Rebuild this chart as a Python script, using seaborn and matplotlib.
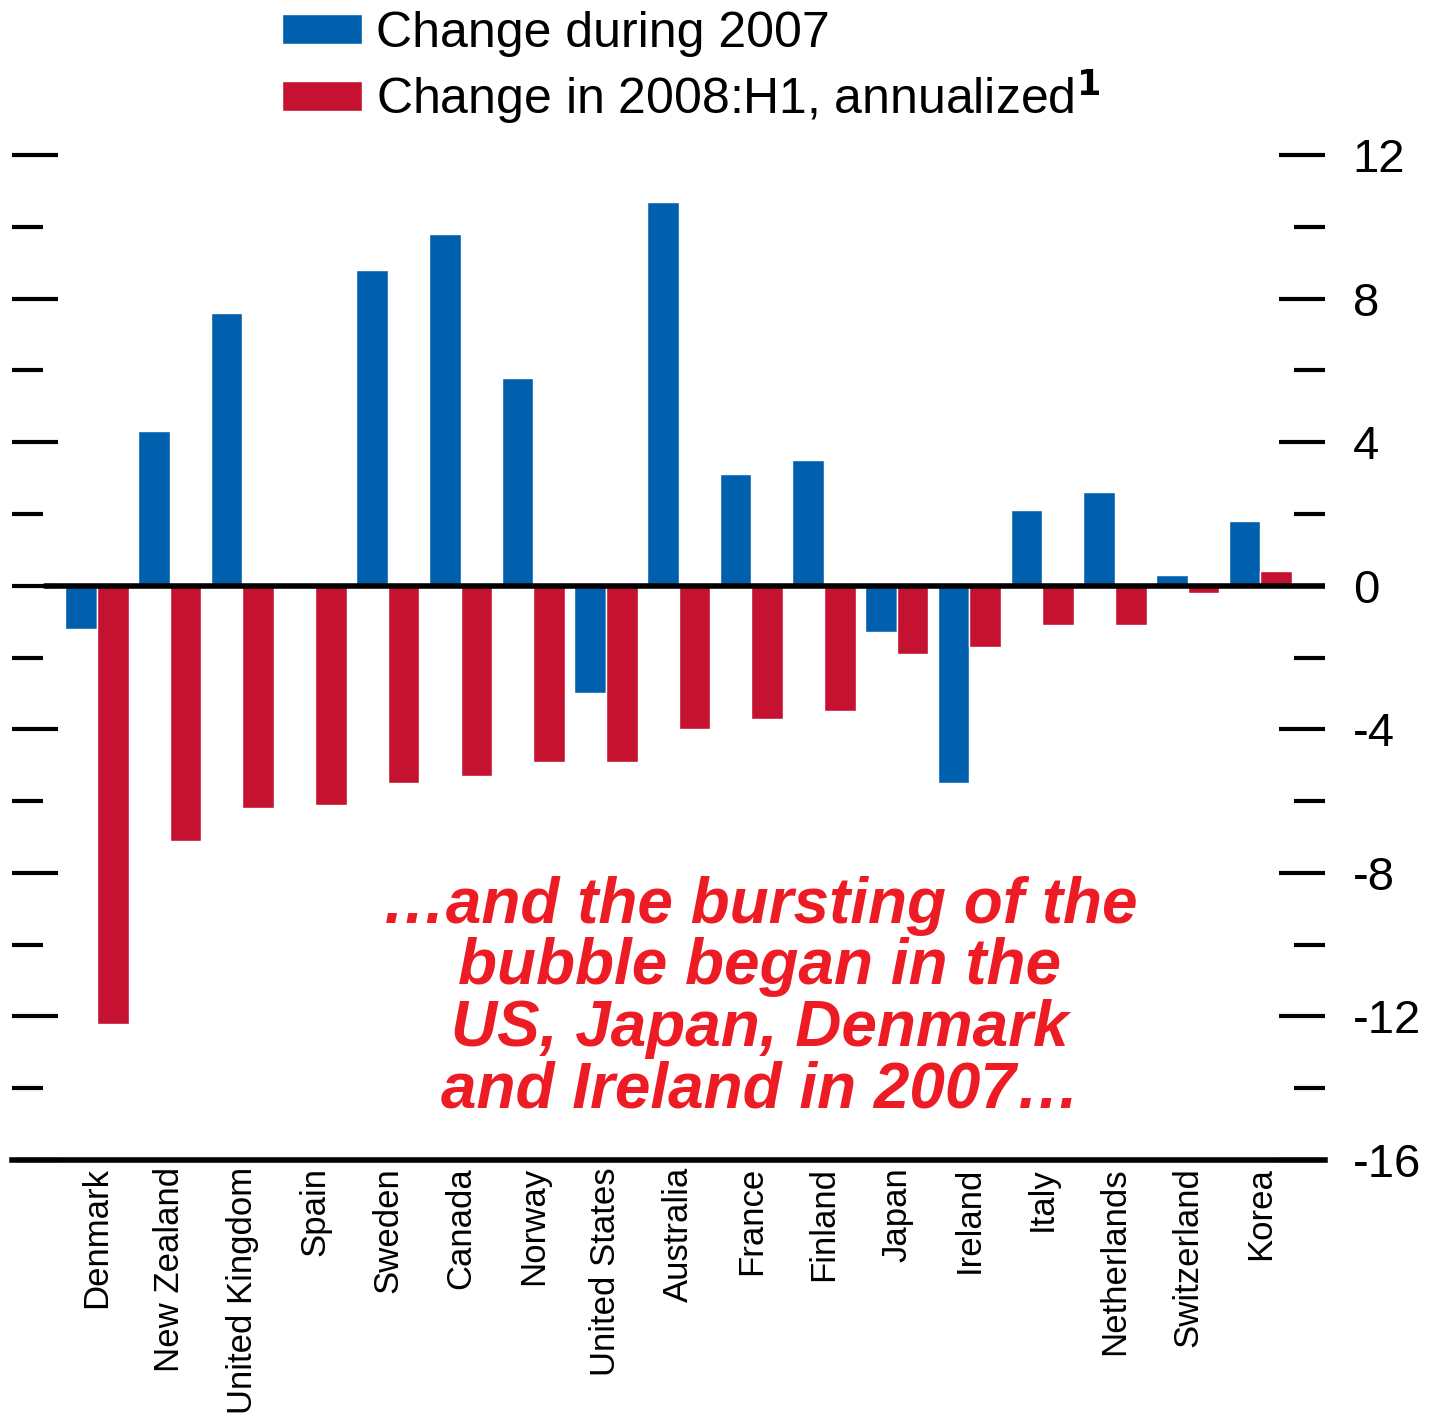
import pandas as pd
import matplotlib
matplotlib.use("Agg")
import matplotlib.pyplot as plt
import seaborn as sns
from matplotlib.ticker import MultipleLocator

# data (percent change)
countries = ["Denmark", "New Zealand", "United Kingdom", "Spain", "Sweden", "Canada",
             "Norway", "United States", "Australia", "France", "Finland", "Japan",
             "Ireland", "Italy", "Netherlands", "Switzerland", "Korea"]
change_2007 = [-1.2, 4.3, 7.6, 0.0, 8.8, 9.8, 5.8, -3.0, 10.7, 3.1, 3.5, -1.3,
               -5.5, 2.1, 2.6, 0.3, 1.8]
change_2008h1 = [-12.2, -7.1, -6.2, -6.1, -5.5, -5.3, -4.9, -4.9, -4.0, -3.7, -3.5,
                 -1.9, -1.7, -1.1, -1.1, -0.2, 0.4]
series_names = ["Change during 2007", r"Change in 2008:H1, annualized$^{\mathbf{1}}$"]
series_colors = ["#0060AE", "#C41230"]

df = pd.concat([
    pd.DataFrame({"country": countries, "value": change_2007, "series": series_names[0]}),
    pd.DataFrame({"country": countries, "value": change_2008h1, "series": series_names[1]}),
])

sns.set_style("white")
plt.rcParams["font.family"] = ["Liberation Sans", "DejaVu Sans"]
plt.rcParams["axes.unicode_minus"] = False
plt.rcParams["text.color"] = "black"
plt.rcParams["xtick.color"] = "black"
plt.rcParams["ytick.color"] = "black"

fig = plt.figure(figsize=(14.33, 14.21), dpi=100)
ax = fig.add_axes([12 / 1433, 1 - 1160 / 1421, 1313 / 1433, (1160 - 155) / 1421])

sns.barplot(data=df, x="country", y="value", hue="series", order=countries,
            hue_order=series_names, palette=series_colors, width=0.87,
            saturation=1, ax=ax)

ax.set_xlim(-1.17, 16.89)
ax.set_ylim(-16, 12)
ax.axhline(0, xmin=33 / 1313, xmax=1, color="black", lw=4, zorder=3)

for side in ["left", "right", "top"]:
    ax.spines[side].set_visible(False)
ax.spines["bottom"].set_linewidth(4)
ax.spines["bottom"].set_color("black")

ax.yaxis.set_major_locator(MultipleLocator(4))
ax.yaxis.set_minor_locator(MultipleLocator(2))
ax.tick_params(axis="y", which="both", left=True, right=True, labelleft=False,
               labelright=True, direction="in", width=3, color="black")
ax.tick_params(axis="y", which="major", length=33, labelsize=34, pad=20)
ax.tick_params(axis="y", which="minor", length=22)

ax.tick_params(axis="x", direction="in", length=15, width=4, color="black", pad=5)
ax.set_xticks(range(len(countries)))
ax.set_xticklabels(countries, rotation=90, ha="center", va="top", fontsize=25)
ax.set_xlabel("")
ax.set_ylabel("")

handles, labels = ax.get_legend_handles_labels()
ax.legend(handles, labels, loc="upper left",
          bbox_to_anchor=(282 / 1433, 1 - 11 / 1421), bbox_transform=fig.transFigure,
          frameon=False, fontsize=36, handlelength=1.6, handleheight=0.55,
          handletextpad=0.27, labelspacing=0.2, borderpad=0, borderaxespad=0)

fig.text(760 / 1433, 1 - 998 / 1421,
         "…and the bursting of the\nbubble began in the\nUS, Japan, Denmark\nand Ireland in 2007…",
         ha="center", va="center", multialignment="center", color="#ED1C24",
         fontsize=46, fontweight="bold", fontstyle="italic", linespacing=1.03)

fig.savefig("out.png", dpi=100, facecolor="white")
